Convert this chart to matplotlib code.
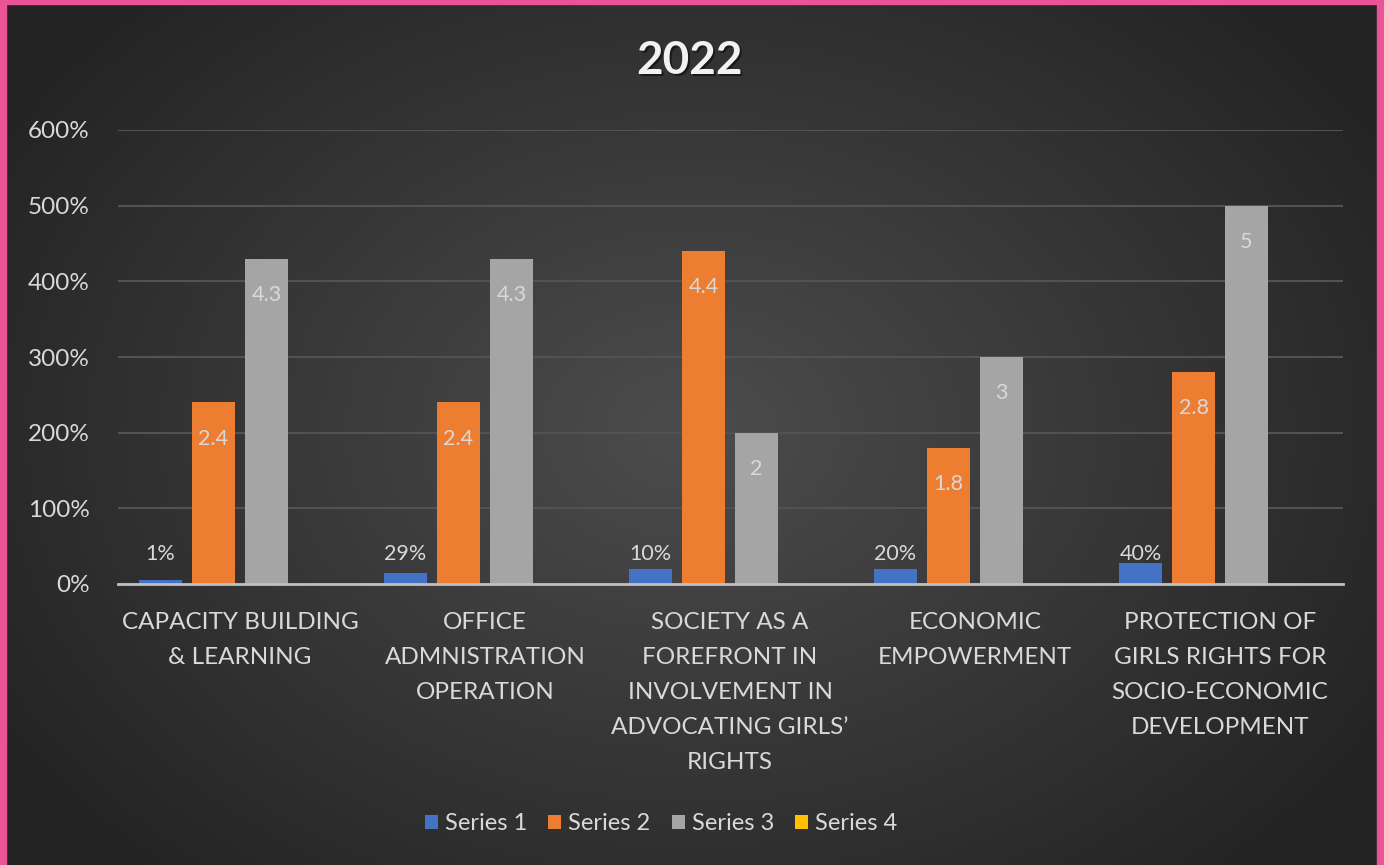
import numpy as np
import matplotlib.pyplot as plt
from matplotlib.patches import Rectangle

categories = [
    "CAPACITY BUILDING\n& LEARNING",
    "OFFICE\nADMNISTRATION\nOPERATION",
    "SOCIETY AS A\nFOREFRONT IN\nINVOLVEMENT IN\nADVOCATING GIRLS\u2019\nRIGHTS",
    "ECONOMIC\nEMPOWERMENT",
    "PROTECTION OF\nGIRLS RIGHTS FOR\nSOCIO-ECONOMIC\nDEVELOPMENT",
]
series1 = [0.05, 0.15, 0.20, 0.20, 0.28]
series1_labels = ["1%", "29%", "10%", "20%", "40%"]
series2 = [2.4, 2.4, 4.4, 1.8, 2.8]
series3 = [4.3, 4.3, 2.0, 3.0, 5.0]
series4 = [0, 0, 0, 0, 0]
series_names = ["Series 1", "Series 2", "Series 3", "Series 4"]
colors = ["#4472C4", "#ED7D31", "#A5A5A5", "#FFC000"]
yticks = [0, 1, 2, 3, 4, 5, 6]

plt.rcParams['font.family'] = ['Lato', 'DejaVu Sans']
txt = "#d9d9d9"

W, H = 1384, 865
fig = plt.figure(figsize=(W / 100, H / 100), dpi=100)

# background: dark radial gradient + pink frame
bg = fig.add_axes([0, 0, 1, 1])
yy, xx = np.mgrid[0:H, 0:W]
r = np.sqrt(((xx - 690) / 760.0) ** 2 + ((yy - 430) / 560.0) ** 2)
shade = np.clip(0.30 - 0.15 * r, 0.14, 0.30)
bg.imshow(np.dstack([shade] * 3), extent=[0, W, H, 0], aspect="auto")
bg.add_patch(Rectangle((0, 0), 6, H, color="#EA5496"))
bg.add_patch(Rectangle((0, 0), W, 4, color="#EA5496"))
bg.add_patch(Rectangle((1377, 0), 7, H, color="#EA5496"))
bg.set_xlim(0, W)
bg.set_ylim(H, 0)
bg.axis("off")

ax = fig.add_axes([117.5 / W, 281 / H, 1225 / W, 454 / H])
ax.set_facecolor("none")

x = np.arange(len(categories))
slot = 53 / 245
bw = 43 / 245
all_series = [series1, series2, series3, series4]
bars = []
for i, vals in enumerate(all_series):
    b = ax.bar(x + (i - 1.5) * slot, vals, width=bw, color=colors[i],
               label=series_names[i], zorder=3)
    bars.append(b)

# data labels
for rect, lab in zip(bars[0], series1_labels):
    ax.text(rect.get_x() + rect.get_width() / 2, 0.40, lab, ha="center",
            va="center", color=txt, fontsize=15.5, zorder=4)
for b, vals in zip(bars[1:3], [series2, series3]):
    for rect, v in zip(b, vals):
        ax.annotate(f"{v:g}", (rect.get_x() + rect.get_width() / 2, v),
                    xytext=(0, -26), textcoords="offset points",
                    ha="center", va="center", color=txt, fontsize=15.5, zorder=4)

ax.set_xlim(-0.5, 4.5)
ax.set_ylim(0, 6)
ax.set_yticks(yticks)
ax.set_yticklabels([f"{t * 100:.0f}%" for t in yticks])
ax.set_xticks(x)
ax.set_xticklabels([])
ax.tick_params(axis="both", length=0, colors=txt, labelsize=17.5)
ax.tick_params(axis="y", pad=20)

# category labels drawn as text so the line spacing sticks
for xi, cat in zip(x, categories):
    ax.annotate(cat, (xi, 0), xycoords=("data", "axes fraction"),
                xytext=(0, -20), textcoords="offset points", ha="center",
                va="top", color=txt, fontsize=17.5, linespacing=1.82)

ax.grid(axis="y", color="#525252", linewidth=1.5, zorder=0)
for s in ["top", "right", "left"]:
    ax.spines[s].set_visible(False)
ax.spines["bottom"].set_color("#bfbfbf")
ax.spines["bottom"].set_linewidth(2)
ax.spines["bottom"].set_zorder(5)

fig.text(692 / W, 1 - 63 / H, "2022", ha="center", va="center",
         fontsize=33, fontweight="bold", color="#1a1a1a")
fig.text(690 / W, 1 - 61 / H, "2022", ha="center", va="center",
         fontsize=33, fontweight="bold", color="#f2f2f2")

leg = fig.legend(loc="center", bbox_to_anchor=(661 / W, 1 - 824 / H), ncol=4,
                 frameon=False, fontsize=17, handlelength=0.55, handleheight=0.55,
                 handletextpad=0.3, columnspacing=0.9, labelcolor=txt)

fig.savefig("out.png", dpi=100)
